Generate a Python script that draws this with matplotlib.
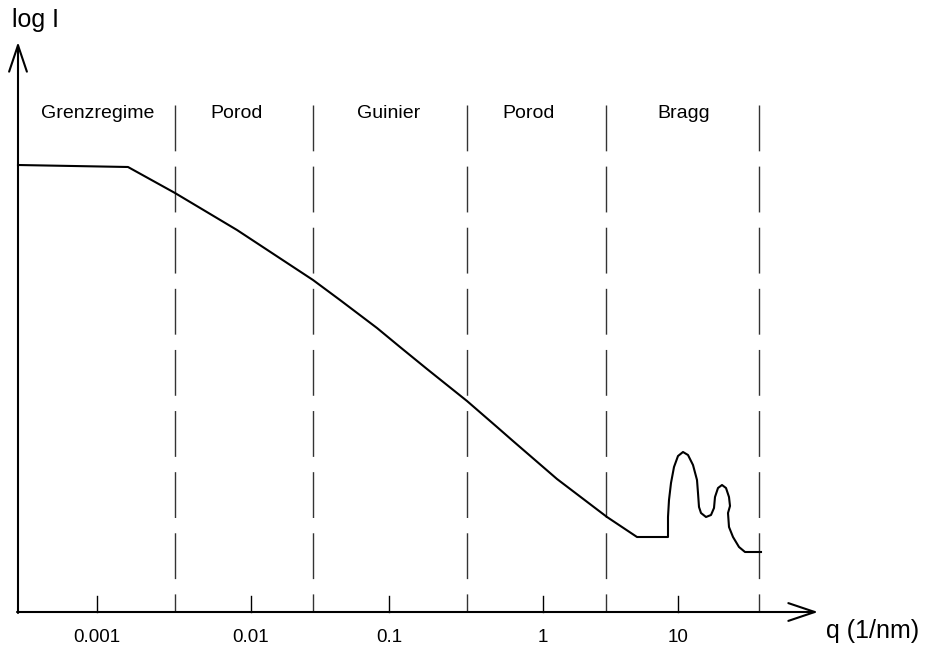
import numpy as np
import matplotlib.pyplot as plt

plt.rcParams['font.family'] = ['Liberation Sans', 'DejaVu Sans']

# schematic coordinates (x to the right, y downwards like the sketch)
x_origin, y_origin = 18, 612
x_arrow_end, y_arrow_end = 818, 42

# decade ticks on the q axis
tick_pos = [97, 251, 389, 543, 678]
tick_labels = ['0.001', '0.01', '0.1', '1', '10']

# regime boundaries and names
bound_pos = [175, 313, 467, 606, 759]
region_pos = [98, 237, 389, 529, 684]
region_names = ['Grenzregime', 'Porod', 'Guinier', 'Porod', 'Bragg']

# scattering curve (log I over q)
curve_x = [18, 128, 175, 237, 313, 340, 377, 400, 427, 467, 497, 513, 557, 607, 637,
           668, 668, 669, 671, 674, 678, 683, 688, 693, 697, 698, 699,
           701, 706, 711, 714, 715, 718, 722, 726, 729, 730, 728,
           729, 733, 739, 745, 761]
curve_y = [165, 167, 193, 230, 280, 300, 328, 347, 369, 401, 427, 441, 479, 517, 537,
           537, 517, 500, 483, 467, 456, 452, 455, 465, 480, 493, 507,
           513, 517, 515, 508, 497, 488, 485, 488, 497, 506, 513,
           527, 537, 547, 552, 552]

fig = plt.figure(figsize=(9.32, 6.48), dpi=100)
ax = fig.add_axes([0, 0, 1, 1])
ax.set_xlim(0, 932)
ax.set_ylim(648, 0)
ax.axis('off')

# axes with open arrow heads
arr = dict(arrowstyle='->,head_length=0.95,head_width=0.32', lw=1.5,
           color='black', shrinkA=0, shrinkB=0, mutation_scale=20)
ax.annotate('', xy=(x_arrow_end, y_origin), xytext=(x_origin - 1, y_origin), arrowprops=arr)
ax.annotate('', xy=(x_origin, y_arrow_end), xytext=(x_origin, y_origin + 1), arrowprops=arr)
ax.text(12, 20, 'log I', fontsize=18, ha='left', va='center')
ax.text(826, 631, 'q (1/nm)', fontsize=18, ha='left', va='center')

# decade ticks and labels
for p, lab in zip(tick_pos, tick_labels):
    ax.plot([p, p], [y_origin - 16, y_origin], color='black', lw=1)
    ax.text(p, 638, lab, fontsize=13.5, ha='center', va='center')

# dashed regime boundaries
for b in bound_pos:
    ax.plot([b, b], [105, y_origin], color='#333333', lw=1,
            linestyle=(0, (33, 11)))

for p, name in zip(region_pos, region_names):
    ax.text(p, 114, name, fontsize=14, ha='center', va='center')

ax.plot(curve_x, curve_y, color='black', lw=1.5, solid_joinstyle='round')

fig.savefig('out.png', dpi=100)
